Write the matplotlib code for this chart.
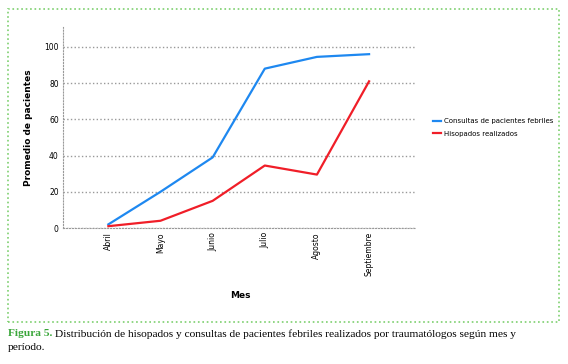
import matplotlib.pyplot as plt
from matplotlib.patches import Rectangle

meses = ["Abril", "Mayo", "Junio", "Julio", "Agosto", "Septiembre"]
consultas = [2, 20, 39, 88, 94.5, 96]
hisopados = [1, 4, 15, 34.5, 29.5, 81]
y_ticks = [0, 20, 40, 60, 80, 100]

W, H = 568, 364
fig = plt.figure(figsize=(W / 100, H / 100), dpi=100)
fig.patch.set_facecolor("white")

# marco verde punteado
fig.patches.append(Rectangle((8 / W, 1 - 322 / H), (559 - 8) / W, (322 - 9) / H,
                             transform=fig.transFigure, fill=False,
                             edgecolor="#7dcf6e", linestyle=":", linewidth=1.2))

ax = fig.add_axes([63 / W, 1 - 228 / H, (416 - 63) / W, (228 - 27) / H])
x = list(range(len(meses)))
ax.plot(x, consultas, color="#1e88f0", linewidth=1.6, label="Consultas de pacientes febriles")
ax.plot(x, hisopados, color="#f01e28", linewidth=1.6, label="Hisopados realizados")

ax.set_xlim(-0.87, 5.9)
ax.set_ylim(0, 111)
ax.set_yticks(y_ticks)
ax.set_xticks(x)
ax.set_xticklabels(meses, rotation=90, fontsize=5.5, va="top")
ax.tick_params(axis="y", labelsize=5.5, length=0, pad=3)
ax.tick_params(axis="x", length=0, pad=3)
ax.grid(axis="y", color="#999999", linestyle=":", linewidth=1)
ax.set_axisbelow(True)
for s in ["top", "right"]:
    ax.spines[s].set_visible(False)
ax.spines["bottom"].set_color("#999999")
ax.spines["bottom"].set_linestyle(":")
ax.spines["left"].set_color("#999999")
ax.spines["left"].set_linestyle(":")

ax.set_ylabel("Promedio de pacientes", fontsize=6.5, fontweight="bold", labelpad=8)
fig.text(240 / W, 1 - 295 / H, "Mes", fontsize=6.5, fontweight="bold", ha="center", va="center")

ax.legend(loc="center left", bbox_to_anchor=(1.03, 0.5), frameon=False, fontsize=5,
          handlelength=1.2, handletextpad=0.4, labelspacing=0.9)

fig.text(8 / W, 1 - 334 / H, "Figura 5.", fontsize=8.2, fontweight="bold", color="#3aa63a",
         family="Liberation Serif", va="center")
fig.text(55 / W, 1 - 334 / H,
         "Distribución de hisopados y consultas de pacientes febriles realizados por traumatólogos según mes y",
         fontsize=8.2, family="Liberation Serif", va="center")
fig.text(8 / W, 1 - 347 / H, "período.", fontsize=8.2, family="Liberation Serif", va="center")

fig.savefig("out.png", dpi=100)
